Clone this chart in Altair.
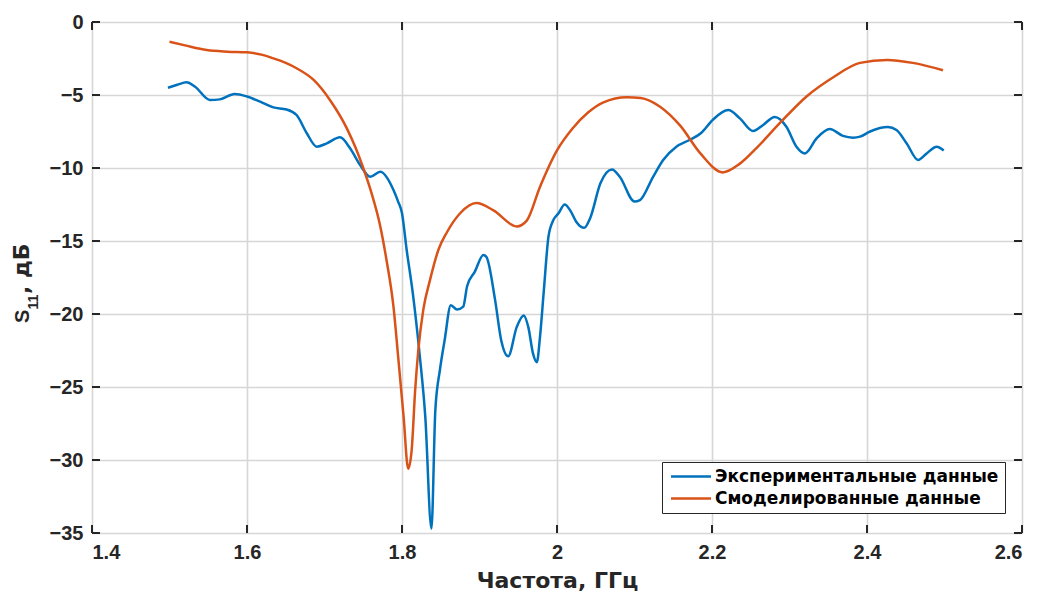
import altair as alt
import pandas as pd

# ---- data ----
exp_x = [1.498, 1.510, 1.522, 1.533, 1.552, 1.565, 1.584, 1.600, 1.617, 1.634,
         1.651, 1.664, 1.677, 1.690, 1.703, 1.720, 1.733, 1.746, 1.759, 1.772,
         1.789, 1.795, 1.800, 1.806, 1.814, 1.823, 1.830, 1.838, 1.843, 1.849,
         1.855, 1.863, 1.871, 1.879, 1.884, 1.894, 1.905, 1.909, 1.920, 1.928,
         1.937, 1.948, 1.957, 1.963, 1.969, 1.974, 1.978, 1.983, 1.989, 1.995,
         2.002, 2.010, 2.017, 2.025, 2.035, 2.043, 2.056, 2.071, 2.081, 2.100,
         2.107, 2.124, 2.137, 2.154, 2.171, 2.186, 2.201, 2.221, 2.236, 2.253,
         2.266, 2.281, 2.296, 2.309, 2.320, 2.335, 2.352, 2.369, 2.382, 2.391,
         2.404, 2.427, 2.438, 2.451, 2.466, 2.477, 2.490, 2.499]
exp_y = [-4.5, -4.3, -4.13, -4.43, -5.34, -5.3, -4.93, -5.1, -5.46, -5.85,
         -5.99, -6.37, -7.6, -8.54, -8.31, -7.9, -8.65, -9.8, -10.6, -10.25,
         -11.5, -12.3, -13.1, -15.6, -18.6, -22.9, -27.0, -34.7, -26.6, -23.8,
         -21.8, -19.4, -19.7, -19.5, -18.1, -17.1, -15.96, -16.1, -19.0, -21.8,
         -22.9, -20.9, -20.1, -20.9, -22.7, -23.3, -21.6, -18.4, -14.7, -13.6,
         -13.1, -12.5, -12.9, -13.7, -14.1, -13.4, -11.05, -10.1, -10.6, -12.3,
         -12.2, -10.6, -9.45, -8.54, -8.08, -7.6, -6.7, -6.03, -6.6, -7.47,
         -7.05, -6.5, -7.17, -8.54, -9.0, -7.97, -7.33, -7.8, -7.92, -7.85,
         -7.5, -7.2, -7.4, -8.3, -9.45, -9.0, -8.54, -8.8]

sim_x = [1.500, 1.520, 1.548, 1.575, 1.600, 1.620, 1.634, 1.650, 1.664, 1.686,
         1.707, 1.729, 1.740, 1.750, 1.760, 1.772, 1.780, 1.789, 1.795, 1.802,
         1.808, 1.8125, 1.817, 1.821, 1.8275, 1.836, 1.847, 1.858, 1.875, 1.896,
         1.918, 1.948, 1.961, 1.978, 2.000, 2.020, 2.040, 2.060, 2.090, 2.108,
         2.133, 2.159, 2.185, 2.214, 2.236, 2.258, 2.288, 2.322, 2.356, 2.391,
         2.426, 2.459, 2.498]
sim_y = [-1.35, -1.6, -1.92, -2.03, -2.08, -2.25, -2.49, -2.8, -3.17, -3.97,
         -5.34, -7.3, -8.6, -10.0, -11.6, -14.0, -16.3, -19.5, -22.9, -27.0,
         -30.6, -29.3, -25.2, -22.5, -19.7, -17.7, -15.6, -14.4, -13.1, -12.4,
         -12.9, -14.0, -13.6, -11.3, -8.8, -7.3, -6.2, -5.5, -5.15, -5.2,
         -5.8, -7.1, -9.0, -10.3, -9.7, -8.6, -6.9, -5.1, -3.8, -2.8,
         -2.6, -2.8, -3.3]

series_names = ["Экспериментальные данные", "Смоделированные данные"]
series_colors = ["#0072BD", "#D95319"]

x_ticks = [1.4, 1.6, 1.8, 2.0, 2.2, 2.4, 2.6]
y_ticks = [-35, -30, -25, -20, -15, -10, -5, 0]

x_title = "Частота, ГГц"
y_title_parts = ["S", "11", ", дБ"]

assert len(exp_x) == len(exp_y) and len(sim_x) == len(sim_y)

W, H = 930, 511
LAT = "Liberation Sans"
CYR = "DejaVu Sans"
INK = "#262626"

df = pd.concat([
    pd.DataFrame({"f": exp_x, "s": exp_y, "series": series_names[0], "o": 0}),
    pd.DataFrame({"f": sim_x, "s": sim_y, "series": series_names[1], "o": 1}),
], ignore_index=True)

xscale = alt.Scale(domain=[1.4, 2.6], nice=False, zero=False)
yscale = alt.Scale(domain=[-35, 0], nice=False, zero=False)

common_axis = dict(grid=True, gridColor="#d6d6d6", gridWidth=1.6,
                   ticks=False, domain=False, labelPadding=9,
                   labelFontSize=20, labelFont=LAT, labelFontWeight="bold",
                   labelColor=INK)
xaxis = alt.Axis(values=x_ticks, format=".1~f", title=x_title,
                 titleFontSize=22, titleFont=CYR, titleFontWeight="bold",
                 titleColor=INK, titlePadding=8, **common_axis)
yaxis = alt.Axis(values=y_ticks, title=None, **common_axis)

lines = alt.Chart(df).mark_line(strokeWidth=2.5, interpolate="monotone").encode(
    x=alt.X("f:Q", scale=xscale, axis=xaxis),
    y=alt.Y("s:Q", scale=yscale, axis=yaxis),
    color=alt.Color("series:N",
                    scale=alt.Scale(domain=series_names, range=series_colors),
                    legend=alt.Legend(title=None, orient="none",
                                      legendX=570, legendY=440,
                                      symbolType="M-1.1,0H6.9", symbolSize=100,
                                      symbolStrokeWidth=2.5,
                                      labelFont=CYR, labelFontSize=17,
                                      labelFontWeight="bold", labelColor="black",
                                      labelOffset=30, labelLimit=0, rowPadding=4,
                                      padding=6, strokeColor=INK,
                                      fillColor="white", cornerRadius=0)),
    order="o:Q",
)

tx = pd.DataFrame({"t": x_ticks})
ty = pd.DataFrame({"t": y_ticks})
tick_style = dict(color=INK, strokeWidth=2)
xt_bottom = alt.Chart(tx).mark_rule(**tick_style).encode(
    x=alt.X("t:Q", scale=xscale), y=alt.value(H), y2=alt.value(H - 8))
xt_top = alt.Chart(tx).mark_rule(**tick_style).encode(
    x=alt.X("t:Q", scale=xscale), y=alt.value(0), y2=alt.value(8))
yt_left = alt.Chart(ty).mark_rule(**tick_style).encode(
    y=alt.Y("t:Q", scale=yscale), x=alt.value(0), x2=alt.value(8))
yt_right = alt.Chart(ty).mark_rule(**tick_style).encode(
    y=alt.Y("t:Q", scale=yscale), x=alt.value(W), x2=alt.value(W - 8))

# y-axis title with a true subscript: "S" + "11" (smaller, shifted) + ", дБ"
yt_s = alt.Chart().mark_text(angle=270, align="left", baseline="alphabetic",
                             font=LAT, fontSize=20, fontWeight="bold", color=INK).encode(
    x=alt.value(-63.5), y=alt.value(301), text=alt.value(y_title_parts[0]))
yt_sub = alt.Chart().mark_text(angle=270, align="left", baseline="alphabetic",
                               font=LAT, fontSize=14, fontWeight="bold", color=INK).encode(
    x=alt.value(-54), y=alt.value(287.5), text=alt.value(y_title_parts[1]))
yt_rest = alt.Chart().mark_text(angle=270, align="left", baseline="alphabetic",
                                font=CYR, fontSize=22, fontWeight="bold", color=INK).encode(
    x=alt.value(-63.5), y=alt.value(272), text=alt.value(y_title_parts[2]))

chart = alt.layer(lines, xt_bottom, xt_top, yt_left, yt_right,
                  yt_s, yt_sub, yt_rest).properties(
    width=W, height=H,
    padding={"left": 92, "top": 22, "right": 16, "bottom": 60},
    autosize=alt.AutoSizeParams(type="none"),
).configure_view(stroke=INK, strokeWidth=2
).configure(background="white")

chart.save("out.html", embed_options={"renderer": "svg", "actions": False})
